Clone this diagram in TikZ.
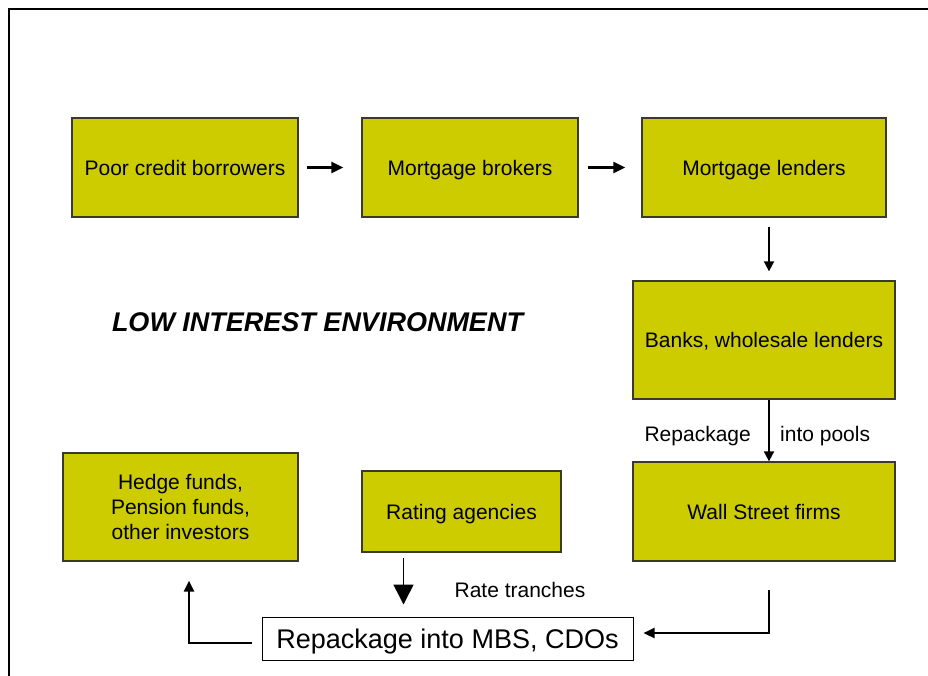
\documentclass[tikz,border=0pt]{standalone}
\usepackage{fontspec}
\setmainfont{Liberation Sans}
\usetikzlibrary{arrows.meta}
\definecolor{boxfill}{HTML}{CCCC00}
\definecolor{boxline}{HTML}{3A3A2A}
\begin{document}
\begin{tikzpicture}[x=1pt,y=-1pt,
  stage/.style={draw=boxline,line width=1.3pt,fill=boxfill,inner sep=0pt,
    font=\fontsize{21}{25}\selectfont,align=center,text depth=0pt},
  flowarrow/.style={-{Triangle[length=12pt,width=11pt]},line width=2.6pt},
  downarrow/.style={-{Triangle[length=10pt,width=10pt]},line width=1.8pt},
  plainarrow/.style={-{Triangle[length=11pt,width=10pt]},line width=2.2pt},
  lbl/.style={font=\fontsize{21}{25}\selectfont,inner sep=0pt}]
\useasboundingbox (0,0) rectangle (928,675);
% page frame
\draw[line width=1.3pt] (928,9) -- (9,9) -- (9,676);

% boxes
\node[stage,minimum width=226pt,minimum height=99pt] (poor) at (185,167.5) {Poor credit borrowers};
\node[stage,minimum width=216pt,minimum height=99pt] (brok) at (470,167.5) {Mortgage brokers};
\node[stage,minimum width=244pt,minimum height=99pt] (lend) at (764,167.5) {Mortgage lenders};
\node[stage,minimum width=262pt,minimum height=118pt] (bank) at (764,340) {Banks, wholesale lenders};
\node[stage,minimum width=262pt,minimum height=99pt] (wall) at (764,511.5) {Wall Street firms};
\node[stage,minimum width=235pt,minimum height=108pt] (hedge) at (180.5,507) {Hedge funds,\\Pension funds,\\other investors};
\node[stage,minimum width=199pt,minimum height=81pt] (rate) at (461.5,511.5) {Rating agencies};
\node[draw=black,line width=1pt,fill=white,inner sep=0pt,minimum width=371pt,minimum height=43pt,
  text depth=0pt,font=\fontsize{27}{32}\selectfont] (mbs) at (447.5,638.5) {Repackage into MBS, CDOs};

% title
\node[font=\fontsize{27}{30}\bfseries\itshape\selectfont,inner sep=0pt] (env) at (317.5,322) {LOW INTEREST ENVIRONMENT};

% connectors
\draw[flowarrow,shorten <=8pt,shorten >=18pt] (poor.east) -- (brok.west);
\draw[flowarrow,shorten <=9pt,shorten >=16pt] (brok.east) -- (lend.west);
\draw[downarrow,shorten <=9pt,shorten >=9pt] ([xshift=5pt]lend.south) -- ([xshift=5pt]bank.north);
\draw[downarrow] ([xshift=5pt]bank.south) -- ([xshift=5pt]wall.north);
\draw[-{Triangle[length=20pt,width=20pt]},line width=1.5pt,shorten <=5pt,shorten >=12pt] ([xshift=-58pt]rate.south) -- ([xshift=-58pt]rate.south |- mbs.north);

\coordinate (wsout) at (769,590);
\coordinate (wsturn) at (769,633);
\draw[plainarrow] (wsout) -- (wsturn) -- ([xshift=10pt]mbs.east |- wsturn);

\coordinate (hturn) at (189,643);
\draw[plainarrow] ([xshift=-10pt]mbs.west |- hturn) -- (hturn) -- ([yshift=-19pt]hturn |- hedge.south);

% labels
\node[lbl,anchor=east] (rp) at (751,436) {Repackage};
\node[lbl,anchor=west] (ip) at (780,436) {into pools};
\node[lbl] (rt) at (520,590) {Rate tranches};
\end{tikzpicture}
\end{document}
